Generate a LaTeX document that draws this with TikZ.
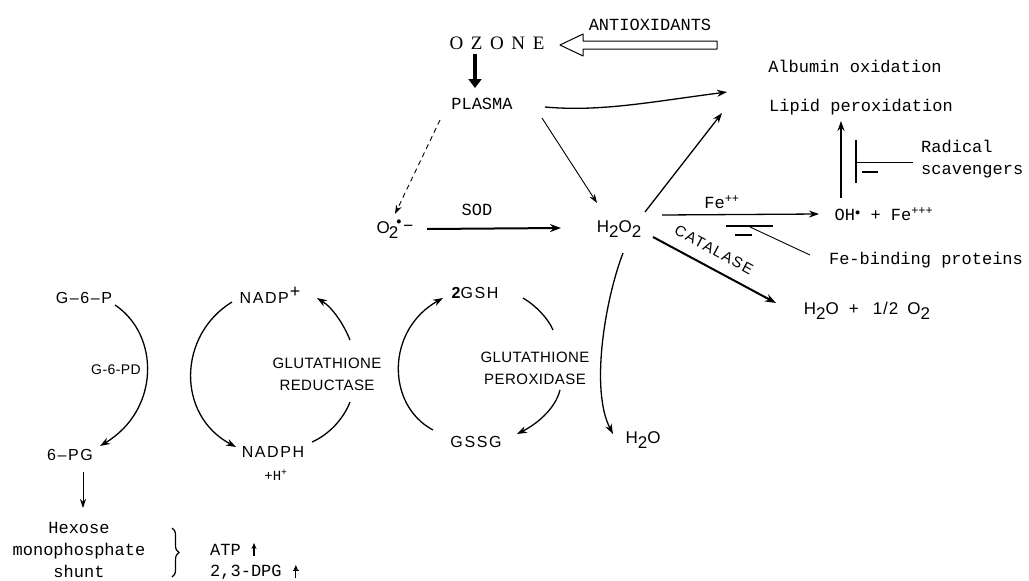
\documentclass[tikz,border=0pt]{standalone}
\usepackage{fontspec}
\setmainfont{Liberation Sans}
\newfontfamily\monof{Liberation Mono}
\newfontfamily\ozf[LetterSpace=40]{Liberation Serif}
\newfontfamily\sanssp[LetterSpace=10]{Liberation Sans}
\newfontfamily\sanschem[LetterSpace=14]{Liberation Sans}
\newfontfamily\sansen[LetterSpace=3]{Liberation Sans}
\usetikzlibrary{arrows.meta,decorations.pathreplacing}
\newcommand{\lowtwo}{\raisebox{-5pt}{2}}
\tikzset{
  mono/.style={font=\monof\fontsize{17}{22}\selectfont, inner sep=0pt},
  monosm/.style={font=\monof\fontsize{14}{18}\selectfont, inner sep=0pt},
  big/.style={font=\sanssp\fontsize{16}{19}\selectfont, inner sep=0pt},
  chem/.style={font=\sanschem\fontsize{17}{19}\selectfont, inner sep=0pt},
  enz/.style={font=\sansen\fontsize{15}{22}\selectfont, align=center, inner sep=0pt},
  ozonestyle/.style={font=\ozf\fontsize{19}{21}\selectfont, inner sep=0pt},
  arr/.style={line width=1.3pt, -{Stealth[length=10pt,width=7pt]}},
  thinarr/.style={line width=0.9pt, -{Stealth[length=9pt,width=6pt]}},
  thickarr/.style={line width=2pt, -{Stealth[length=11pt,width=8pt]}},
  plain/.style={line width=1.1pt},
}
\begin{document}
\begin{tikzpicture}[x=1pt,y=-1pt]
\useasboundingbox[fill=white] (0,0) rectangle (1029,581);

% ---------- top part ----------
\node[mono] (antiox) at (650,25) {ANTIOXIDANTS};
\node[ozonestyle] (ozone) at (497,43) {OZONE};
\node[mono] (plasma) at (482,104) {PLASMA};
\node[mono] (albumin) at (855,66) {Albumin oxidation};
\node[mono] (lipid) at (861,107) {Lipid peroxidation};
\node[mono, align=left, anchor=west] (radical) at (921,159) {Radical\\scavengers};

% hollow arrow (antioxidants -> ozone)
\draw[line width=1pt, line join=round]
  (717,41) -- (583,41) -- (583,34) -- (560,45) -- (583,56) -- (583,49) -- (717,49) -- cycle;

% thick ozone -> plasma arrow
\coordinate (ozdown1) at (475,54);
\coordinate (ozdown2) at (475,88);
\draw[line width=4pt, -{Triangle[length=9pt,width=13pt]}] (ozdown1) -- (ozdown2);

% ---------- middle row ----------
\node[chem] (o2) at (395,229)
  {O\kern-1pt\lowtwo\kern-2pt\raisebox{9pt}{\scalebox{0.6}{$\bullet$}}\kern2pt\raisebox{2pt}{−}};
\node[mono] (sod) at (477,210) {SOD};
\node[chem] (h2o2) at (619,229) {H\lowtwo O\lowtwo};
\node[mono] (fepp) at (722,202) {Fe\textsuperscript{++}};
\node[mono] (oh) at (884,214) {OH\raisebox{5pt}{\scalebox{0.6}{$\bullet$}} + Fe\textsuperscript{+++}};
\node[mono] (febind) at (926,260) {Fe-binding proteins};
\node[chem] (h2ohalf) at (867,311)
  {H\lowtwo O\hspace{10pt}+\hspace{14pt}1\kern1pt/\kern1pt2\hspace{9pt}O\lowtwo};
\node[chem] (h2o) at (643,440) {H\lowtwo O};

% connectors top/middle
\coordinate (plE) at (545,107);
\coordinate (albT) at (727,92);
\draw[arr] (plE) .. controls (600,112) and (650,102) .. (albT);

\coordinate (plSE) at (542,118);
\coordinate (h2oNW) at (597,203);
\draw[thinarr] (plSE) -- (h2oNW);

\coordinate (plSW) at (440,120);
\coordinate (o2N) at (395,214);
\draw[thinarr, dash pattern=on 5pt off 4pt] (plSW) -- (o2N);

\coordinate (o2E) at (427,229);
\coordinate (h2o2W) at (561,228);
\draw[thickarr] (o2E) -- (h2o2W);

\coordinate (h2o2NE) at (645,212);
\coordinate (lipSW) at (722,113);
\draw[arr] (h2o2NE) -- (lipSW);

\coordinate (h2o2Ea) at (662,215);
\coordinate (ohW) at (819,214);
\draw[arr] (h2o2Ea) -- (ohW);

\coordinate (h2o2SE) at (653,237);
\coordinate (catT) at (776,303);
\draw[thickarr] (h2o2SE) -- (catT);
\node[font=\sanssp\fontsize{15}{18}\selectfont, inner sep=0pt, rotate=-28.4] (catalase) at (714,250) {CATALASE};

\coordinate (h2o2S) at (623,253);
\coordinate (h2oN) at (613,434);
\draw[arr] (h2o2S) .. controls (605,300) and (590,390) .. (h2oN);

% Fe-binding inhibition
\coordinate (febarL) at (726,226);
\coordinate (febarR) at (773,226);
\draw[plain] (febarL) -- (febarR);
\coordinate (feminL) at (735,235);
\coordinate (feminR) at (752,235);
\draw[plain] (feminL) -- (feminR);
\coordinate (febarM) at (750,227);
\coordinate (febindW) at (810,255);
\draw[line width=0.9pt] (febarM) -- (febindW);

% OH -> lipid and radical scavengers bar
\coordinate (ohN) at (841,198);
\coordinate (lipS) at (841,121);
\draw[arr] (ohN) -- (lipS);
\coordinate (rbT) at (856,140);
\coordinate (rbB) at (856,183);
\draw[plain] (rbT) -- (rbB);
\coordinate (rbM) at (856,162);
\coordinate (radW) at (913,162);
\draw[line width=0.9pt] (rbM) -- (radW);
\coordinate (rminL) at (862,172);
\coordinate (rminR) at (878,172);
\draw[plain] (rminL) -- (rminR);

% ---------- bottom left cycles ----------
\node[big] (g6p) at (84,298) {G–6–P};
\node[enz, font=\sansen\fontsize{14}{18}\selectfont] (g6pd) at (116,370) {G-6-PD};
\node[big] (pg) at (70,455) {6–PG};
\node[mono, align=center] (hexose) at (79,550) {Hexose\\monophosphate\\shunt};

\coordinate (g6pE) at (115,305);
\coordinate (pgE) at (100,446);
\draw[arr] (g6pE) .. controls (160,335) and (160,410) .. (pgE);
\coordinate (pgS) at (83,472);
\coordinate (hexN) at (83,508);
\draw[thinarr] (pgS) -- (hexN);

\coordinate (brT) at (172,528);
\coordinate (brB) at (172,577);
\draw[line width=1.2pt, decorate, decoration={brace, amplitude=7pt}] (brT) -- (brB);
\node[mono, anchor=west] (atp) at (210,550) {ATP};
\node[mono, anchor=west] (dpg) at (210,572) {2,3-DPG};
\draw[line width=1.1pt, -{Stealth[length=6pt,width=5pt]}] ([xshift=13pt,yshift=-6pt]atp.east) -- ++(0,-13);
\draw[line width=1.1pt, -{Stealth[length=6pt,width=5pt]}] ([xshift=14pt,yshift=-6pt]dpg.east) -- ++(0,-13);
\draw[line width=0.8pt] ([xshift=11pt,yshift=2pt]dpg.east) -- ++(6,0);

\node[big] (nadp) at (270,295) {NADP\kern1pt\raisebox{6pt}{\fontsize{18}{18}\selectfont +}};
\node[big] (nadph) at (273,452) {NADPH};
\node[monosm] (hplus) at (276,475) {+H\textsuperscript{+}};
\node[enz] (gr) at (327,374) {GLUTATHIONE\\REDUCTASE};

\coordinate (nadpW) at (232,302);
\coordinate (nadphW) at (236,447);
\draw[arr] (nadpW) .. controls (178,335) and (176,415) .. (nadphW);
\coordinate (grNE) at (350,340);
\coordinate (nadpE) at (317,298);
\draw[arr] (grNE) .. controls (344,325) and (333,308) .. (nadpE);
\coordinate (grSE) at (350,402);
\coordinate (nadphE) at (312,442);
\draw[line width=1.3pt] (grSE) .. controls (343,420) and (328,435) .. (nadphE);

\node[big] (gsh) at (475,293) {{\bfseries 2}GSH};
\node[big] (gssg) at (476,442) {GSSG};
\node[enz] (gp) at (535,368) {GLUTATHIONE\\PEROXIDASE};

\coordinate (gssgW) at (433,430);
\coordinate (gshW) at (443,298);
\draw[arr] (gssgW) .. controls (386,405) and (386,330) .. (gshW);
\coordinate (gshE) at (523,298);
\coordinate (gpN) at (553,330);
\draw[line width=1.3pt] (gshE) .. controls (535,305) and (548,318) .. (gpN);
\coordinate (gpS) at (560,390);
\coordinate (gssgE) at (517,434);
\draw[arr] (gpS) .. controls (555,410) and (535,425) .. (gssgE);

\end{tikzpicture}
\end{document}
